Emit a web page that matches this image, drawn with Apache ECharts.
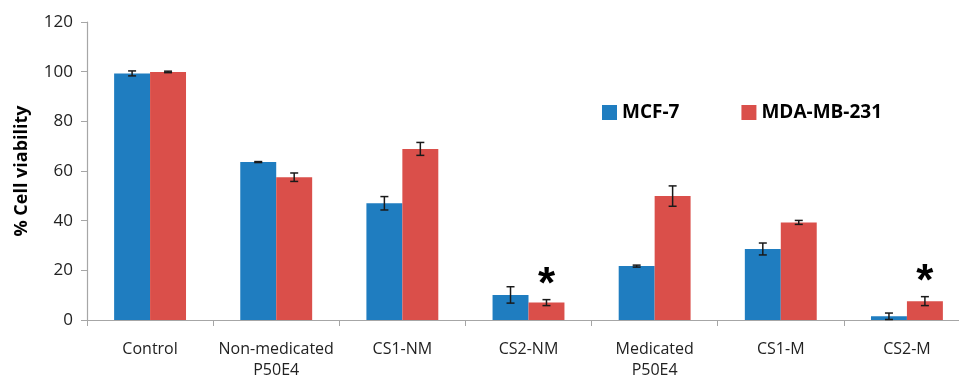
<!DOCTYPE html>
<html><head><meta charset="utf-8">
<script src="https://cdn.jsdelivr.net/npm/echarts@6/dist/echarts.min.js"></script>
<style>html,body{margin:0;padding:0;background:#fff}#c{width:959px;height:376px}</style>
</head><body><div id="c"></div>
<script>
const categories = ['Control', 'Non-medicated\nP50E4', 'CS1-NM', 'CS2-NM', 'Medicated\nP50E4', 'CS1-M', 'CS2-M'];
const seriesNames = ['MCF-7', 'MDA-MB-231'];
const mcf7 = [99.3, 63.6, 47.0, 10.1, 21.7, 28.6, 1.5];
const mcf7Err = [1.0, 0.2, 2.7, 3.3, 0.4, 2.4, 1.3];
const mda = [99.9, 57.5, 68.9, 7.0, 49.9, 39.3, 7.6];
const mdaErr = [0.3, 1.7, 2.6, 1.2, 4.1, 0.8, 1.8];
const mdaStar = [false, false, false, true, false, false, true];
const yTicks = [0, 20, 40, 60, 80, 100, 120];

const colors = ['#1F7DC0', '#DA4F4A'];
const catGap = 0.43;

function errSeries(vals, errs, sIdx, stars) {
  return {
    type: 'custom',
    z: 10,
    data: vals.map((v, i) => [i, v, errs[i], stars ? (stars[i] ? 1 : 0) : 0]),
    renderItem: function (params, api) {
      const i = api.value(0), v = api.value(1), e = api.value(2), st = api.value(3);
      const catW = api.size([1, 0])[0];
      const bw = catW * (1 - catGap) / 2;
      const c = api.coord([i, v]);
      const x = c[0] + (sIdx === 0 ? -bw / 2 : bw / 2);
      const yt = api.coord([i, v + e])[1];
      const yb = api.coord([i, v - e])[1];
      const cap = 4;
      const st1 = { stroke: '#1a1a1a', lineWidth: 1.5 };
      const ch = [
        { type: 'line', shape: { x1: x, y1: yt, x2: x, y2: yb }, style: st1 },
        { type: 'line', shape: { x1: x - cap, y1: yt, x2: x + cap, y2: yt }, style: st1 },
        { type: 'line', shape: { x1: x - cap, y1: yb, x2: x + cap, y2: yb }, style: st1 }
      ];
      if (st) {
        ch.push({ type: 'text', x: x, y: yt + 8, style: { text: '*', fill: '#000', font: 'bold 44px "Liberation Sans", Arial, sans-serif', align: 'center', verticalAlign: 'bottom' } });
      }
      return { type: 'group', children: ch };
    }
  };
}

const chart = echarts.init(document.getElementById('c'));
chart.setOption({
  animation: false,
  backgroundColor: '#fff',
  grid: { left: 87, top: 22, height: 298, width: 883, containLabel: false, outerBoundsMode: 'none' },
  legend: {
    data: seriesNames,
    left: 597, top: 98,
    itemWidth: 15, itemHeight: 15, itemGap: 62,
    icon: 'rect',
    textStyle: { fontSize: 19, fontWeight: 'bold', color: '#000', fontFamily: '"Open Sans", "Liberation Sans", sans-serif' }
  },
  xAxis: {
    type: 'category',
    data: categories,
    axisLine: { lineStyle: { color: '#a6a6a6', width: 1.2 } },
    axisTick: { show: true, length: 6, lineStyle: { color: '#a6a6a6' } },
    axisLabel: { color: '#222', fontSize: 16, margin: 19, lineHeight: 21, fontFamily: '"Liberation Sans Narrow", "Open Sans", sans-serif', interval: 0 }
  },
  yAxis: {
    type: 'value', min: 0, max: 120, interval: 20,
    name: '% Cell viability',
    nameLocation: 'middle', nameGap: 56,
    nameTextStyle: { fontSize: 18, fontWeight: 'bold', color: '#000', fontFamily: '"Open Sans", "Liberation Sans", sans-serif' },
    axisLine: { show: true, lineStyle: { color: '#a6a6a6', width: 1.2 } },
    axisTick: { show: true, length: 6, lineStyle: { color: '#a6a6a6' } },
    splitLine: { show: false },
    axisLabel: { color: '#222', fontSize: 17, margin: 14, fontFamily: '"Open Sans", "Liberation Sans", sans-serif',
      formatter: v => yTicks.includes(v) ? String(v) : '' }
  },
  series: [
    { name: seriesNames[0], type: 'bar', data: mcf7, barGap: '0%', barCategoryGap: (catGap * 100) + '%', itemStyle: { color: colors[0] } },
    { name: seriesNames[1], type: 'bar', data: mda, barGap: '0%', barCategoryGap: (catGap * 100) + '%', itemStyle: { color: colors[1] } },
    errSeries(mcf7, mcf7Err, 0, null),
    errSeries(mda, mdaErr, 1, mdaStar)
  ]
});
</script></body></html>
